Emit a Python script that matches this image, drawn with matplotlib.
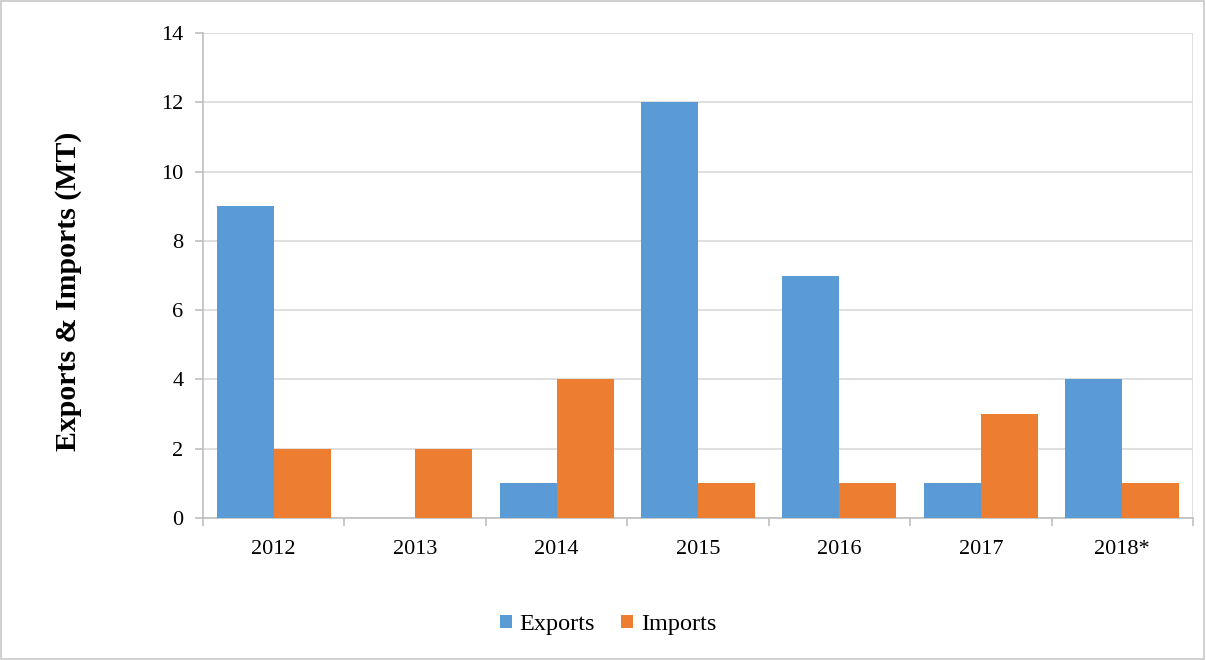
import numpy as np
import matplotlib.pyplot as plt
from matplotlib.patches import Rectangle

years = ["2012", "2013", "2014", "2015", "2016", "2017", "2018*"]
exports = [9, 0, 1, 12, 7, 1, 4]
imports = [2, 2, 4, 1, 1, 3, 1]

plt.rcParams['font.family'] = ['Liberation Serif', 'DejaVu Serif']

fig = plt.figure(figsize=(12.06, 6.6), dpi=100)
ax = fig.add_axes([203 / 1206, 1 - 518 / 660, 990 / 1206, 485 / 660])

# outer border like the Excel chart frame
fig.patches.append(Rectangle((0.001, 0.002), 0.997, 0.996, transform=fig.transFigure,
                             fill=False, edgecolor="#c8c8c8", linewidth=1.2))

x = np.arange(len(years))
w = 0.403
ax.bar(x - w / 2, exports, w, color="#5B9BD5", label="Exports", zorder=3)
ax.bar(x + w / 2, imports, w, color="#ED7D31", label="Imports", zorder=3)

ax.set_xlim(-0.5, len(years) - 0.5)
ax.set_ylim(0, 14)
ax.set_yticks(range(0, 15, 2))
ax.set_xticks(x)
ax.set_xticklabels(years)
ax.set_xticks(np.arange(-0.5, len(years)), minor=True)
ax.tick_params(axis="x", which="major", length=0, pad=16, labelsize=16)
ax.tick_params(axis="x", which="minor", length=6, color="#bfbfbf", width=1.2)
ax.tick_params(axis="y", length=6, color="#bfbfbf", width=1.2, labelsize=16, pad=8)

ax.grid(axis="y", color="#d9d9d9", linewidth=1.2, zorder=0)
for s in ["top", "right"]:
    ax.spines[s].set_visible(False)
for s in ["left", "bottom"]:
    ax.spines[s].set_color("#bfbfbf")
    ax.spines[s].set_linewidth(1.2)
# right border line of plot area
ax.axvline(len(years) - 0.5, color="#d9d9d9", linewidth=1.2, zorder=0)

ax.set_ylabel("Exports & Imports (MT)", fontsize=21.5, fontweight="bold")
ax.yaxis.set_label_coords(-0.122, 0.468)

ax.legend(loc="center", bbox_to_anchor=(0.409, -0.22), ncol=2, frameon=False,
          fontsize=17.5, handlelength=0.5, handleheight=0.5, handletextpad=0.3,
          columnspacing=1.1)

fig.savefig("out.png", dpi=100)
